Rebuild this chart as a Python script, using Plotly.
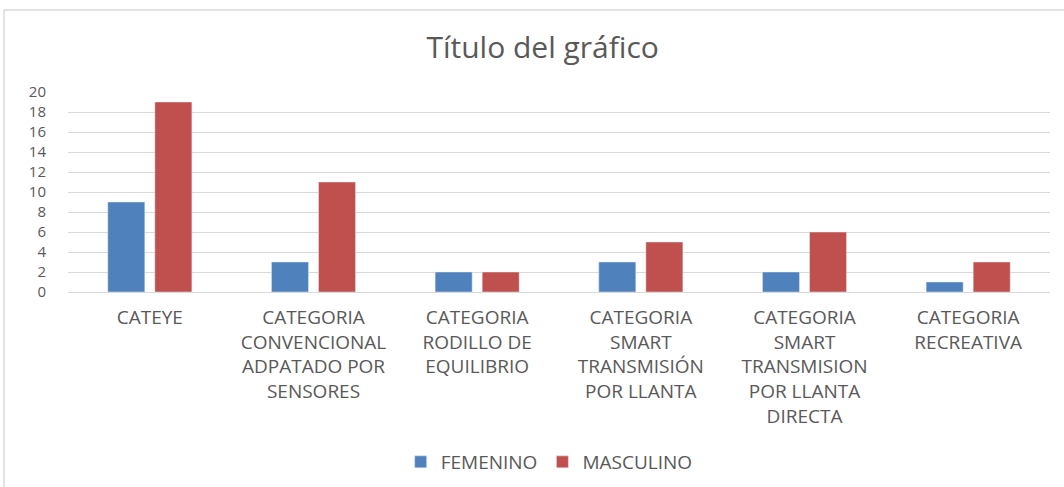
import plotly.graph_objects as go

categories = [
    "CATEYE",
    "CATEGORIA<br>CONVENCIONAL<br>ADPATADO POR<br>SENSORES",
    "CATEGORIA<br>RODILLO DE<br>EQUILIBRIO",
    "CATEGORIA<br>SMART<br>TRANSMISIÓN<br>POR LLANTA",
    "CATEGORIA<br>SMART<br>TRANSMISION<br>POR LLANTA<br>DIRECTA",
    "CATEGORIA<br>RECREATIVA",
]
femenino = [9, 3, 2, 3, 2, 1]
masculino = [19, 11, 2, 5, 6, 3]
y_ticks = list(range(0, 21, 2))

FONT = "Open Sans"
GRAY = "#595959"

fig = go.Figure()
fig.add_trace(go.Bar(name="FEMENINO", x=categories, y=femenino, marker_color="#4F81BD"))
fig.add_trace(go.Bar(name="MASCULINO", x=categories, y=masculino, marker_color="#C0504D"))

L, R, T, B = 68, 14, 92, 195
W, H = 1064, 487
pw, ph = W - L - R, H - T - B

fig.update_layout(
    width=W, height=H,
    margin=dict(l=L, r=R, t=T, b=B, autoexpand=False),
    paper_bgcolor="white", plot_bgcolor="white",
    barmode="group", bargap=0.425, bargroupgap=0.213,
    title=dict(text="Título del gráfico", x=0.51, xanchor="center",
               y=1 - 47 / H, yref="container", yanchor="middle",
               font=dict(family=FONT, size=30, color=GRAY)),
    legend=dict(orientation="h", x=0.49, xanchor="center",
                y=1 - 462 / H, yref="container", yanchor="middle",
                font=dict(family=FONT, size=19, color=GRAY),
                itemwidth=30, traceorder="normal"),
    font=dict(family=FONT, color=GRAY),
    shapes=[dict(type="rect", xref="paper", yref="paper",
                 x0=(4 - L) / pw, x1=(W + 20 - L) / pw,
                 y0=(T + ph - (H + 20)) / ph, y1=(T + ph - 10) / ph,
                 line=dict(color="#d9d9d9", width=1.5), fillcolor="rgba(0,0,0,0)",
                 layer="below")],
)
fig.update_xaxes(showgrid=False, showline=True, linecolor="#d9d9d9", linewidth=1,
                 tickfont=dict(family=FONT, size=19, color=GRAY), tickangle=0,
                 ticklabelstandoff=8, automargin=False)
fig.update_yaxes(range=[0, 20], tickvals=y_ticks, showgrid=True, gridcolor="#d9d9d9",
                 gridwidth=1, zeroline=False, showline=False, automargin=False,
                 tickfont=dict(family=FONT, size=15, color=GRAY), ticklabelstandoff=21)

fig.write_html("out.html", config={"displayModeBar": False},
               post_script="document.body.style.margin='0';")
